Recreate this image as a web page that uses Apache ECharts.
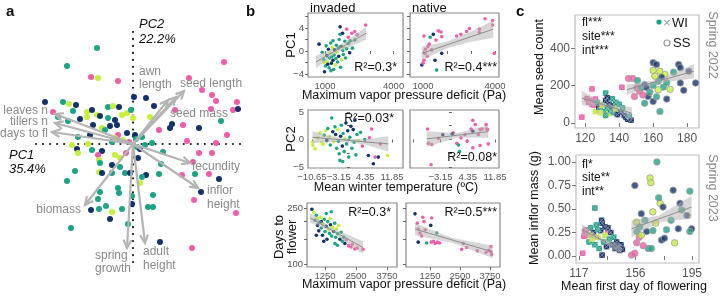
<!DOCTYPE html>
<html><head><meta charset="utf-8">
<script src="https://cdn.jsdelivr.net/npm/echarts@6/dist/echarts.min.js"></script>
<style>html,body{margin:0;padding:0;background:#fff}#c{width:720px;height:296px}</style>
</head><body><div id="c"></div><script>
const FONT = '"Liberation Sans", Arial, Helvetica, sans-serif';
const COLORS = ['#13316c', '#1ba587', '#c6f03a', '#f45ca8'];

// ---- panel a: PCA scores [PC1, PC2, group] ----
const pcaScores = [
[-3.6,9.6,1],[-6.6,7.8,1],[9.1,8.2,3],[-4.2,6.7,3],[-3.5,6.6,2],[-1.5,6.3,3],[5.6,6.6,3],[6.9,5.4,3],[7.9,4.9,3],[8.3,4.3,3],[10.4,4.2,3],[10.0,3.4,3],[-8.8,4.2,0],[-7.0,4.2,1],[-6.4,4.0,2],[-5.7,3.9,0],[0.1,4.7,0],[1.3,4.6,0],[2.1,3.8,0],[-8.0,3.2,3],[-6.0,3.3,1],[-4.6,3.2,2],[-4.1,3.4,0],[-3.6,2.9,2],[-2.5,3.7,1],[-2.0,3.8,2],[-1.4,3.7,0],[-0.6,3.1,2],[-0.2,3.4,1],[4.2,3.4,3],[7.8,3.5,3],[10.5,3.5,0],[-7.5,2.7,1],[-6.5,2.3,1],[-4.6,2.7,2],[-5.3,2.5,0],[-3.3,2.8,0],[-2.5,2.6,1],[-1.8,2.4,0],[-1.1,2.9,2],[0.0,2.6,2],[3.9,2.0,0],[3.7,1.6,0],[5.0,1.9,3],[8.8,2.3,1],[6.6,1.6,0],[2.6,1.4,3],[-3.1,1.6,2],[-4.0,1.9,0],[-2.3,1.8,0],[-2.8,1.4,1],[-1.6,1.9,0],[-5.5,0.7,1],[-4.3,0.9,0],[-1.5,0.9,3],[-2.1,0.2,1],[-0.6,1.1,0],[0.2,0.9,0],[9.4,0.9,3],[0.9,0.7,1],[1.7,2.7,2],[1.2,-0.1,1],[1.9,0.1,1],[-4.5,0.0,2],[8.3,0.1,3],
[-6.1,-0.1,2],[-5.6,-0.5,0],[-5.5,-0.9,2],[-4.1,-0.6,1],[-3.1,-0.7,0],[-3.5,-1.1,3],[-3.4,-1.6,2],[-3.3,-1.9,1],[5.4,0.3,3],[-1.8,-1.1,2],[-1.3,-1.4,2],[-0.7,-0.9,3],[-1.3,-2.3,1],[-2.1,-2.1,0],[-5.8,-2.7,1],[-6.6,-3.7,1],[-3.4,-2.8,2],[-3.1,-2.9,0],[-2.1,-2.9,1],[-0.8,-2.9,1],[-0.3,-2.9,0],[0.5,-1.4,0],[3.0,-0.8,1],[2.8,-2.0,1],[1.3,-3.1,0],[0.9,-3.3,1],[0.7,-3.9,2],[2.6,-3.0,1],[4.9,-3.1,3],[6.0,-1.8,3],[6.6,-0.9,3],[7.9,-0.9,3],[6.2,-3.0,1],[7.6,-3.0,3],[8.6,-3.5,0],[6.8,-4.8,0],[6.1,-5.6,3],[10.3,-6.9,3],[-3.3,-4.8,1],[-1.5,-4.4,1],[-1.4,-4.9,1],[-3.5,-5.5,1],[-4.2,-6.6,0],[-3.4,-6.5,1],[-2.7,-6.2,1],[-2.1,-6.8,2],[-2.3,-7.5,0],[-1.1,-6.5,1],[-0.1,-5.2,1],[-0.1,-6.0,0],[1.5,-6.3,1],[2.0,-6.3,1],[2.0,-5.1,1],[-0.5,-8.0,1],[-6.2,-8.4,1],[2.7,-9.8,0],[5.9,-10.4,3],
[-1.0,0.4,2],[0.4,-0.3,1],[-0.4,0.2,3],[0.7,-0.5,0],[-1.8,0.6,2],[0.3,0.5,1]
];
const loadingNames = ['leaves n','tillers n','days to fl','awn length','seed mass','seed length','fecundity','inflor height','biomass','spring growth','adult height'];
const loadingPC1 = [-7.8,-7.8,-8.1,3.5,4.3,5.1,5.7,6.5,-4.8,-0.6,1.2];
const loadingPC2 = [3.0,2.1,1.2,4.4,4.7,5.3,-1.9,-4.4,-6.1,-10.4,-9.9];
// zero reference lines [x1, y1, x2, y2]
const zeroLines = [[-9.7,0,10.7,0],[0,11.2,0,-11.8]];

// ---- panel b: [x, y, group] ----
const vpdPC1Invaded = [[740,1.2,0],[880,-0.2,1],[950,-1.5,1],[980,-3.6,0],[1020,-2.6,1],[1050,0.9,1],[1080,-0.8,0],[1100,-1.8,2],[1150,0.3,0],[1180,-2.9,1],[1200,-1.2,1],[1230,-0.4,2],[1250,1.4,1],[1280,-2.1,0],[1300,-1.0,1],[1320,0.6,2],[1350,-1.6,0],[1380,-3.2,1],[1400,-0.7,1],[1420,0.2,0],[1450,-2.4,2],[1480,-1.3,1],[1500,1.0,1],[1520,-0.2,2],[1550,-1.9,1],[1580,0.5,1],[1600,-0.9,0],[1620,2.0,1],[1660,4.2,0],[1660,2.9,1],[1680,-2.8,1],[1700,0.8,0],[1720,-1.5,2],[1770,3.1,0],[1780,0.1,1],[1800,-0.6,1],[1840,0.75,2],[1870,1.7,1],[1900,-1.2,1],[1950,3.8,3],[1950,0.4,1],[2020,2.4,3],[2020,1.3,1],[2080,-0.3,0],[2100,1.8,1],[2170,3.1,3],[2200,0.5,1],[2300,3.4,3],[2300,1.9,1],[2410,2.8,3],[2780,4.5,3],[1120,-2.3,0],[1260,-3.4,1],[960,-2.0,2],[1350,1.8,1]];
const vpdPC1Native = [[3585,5.6,3],[3900,5.3,3],[3900,4.5,3],[3350,3.8,3],[3350,3.2,3],[2930,3.9,3],[2820,3.4,3],[2580,2.9,3],[2400,2.6,3],[3970,-0.4,3],[1640,3.5,3],[1750,3.3,3],[1540,1.9,3],[1780,2.5,3],[1040,2.6,3],[1430,2.9,0],[1300,2.4,1],[1260,1.2,3],[1080,-0.4,3],[1180,-0.9,3],[1360,0.2,3],[1100,0.3,3],[1780,-0.4,0],[950,-2.4,0],[1040,-1.6,3],[1500,-1.6,0],[1570,-3.3,1],[1000,-2.1,3],[1200,0.8,3]];
const tempPC2Invaded = [[-10.5,-0.5,2],[-10.4,-1.1,2],[-9.8,-1.7,2],[-9.0,0.3,2],[-8.4,1.2,2],[-7.8,-0.6,2],[-7.2,0.8,1],[-6.8,1.6,2],[-6.5,-0.2,0],[-6.2,2.0,1],[-5.8,0.5,2],[-5.5,-1.0,1],[-5.1,3.9,1],[-4.8,1.4,0],[-4.5,-0.4,2],[-4.2,2.3,1],[-4.0,0.9,0],[-3.7,-1.6,1],[-3.4,1.8,2],[-3.2,-0.3,1],[-3.0,-2.6,1],[-2.8,-3.8,1],[-2.6,0.6,0],[-2.4,2.6,1],[-2.1,-1.2,0],[-1.9,1.1,1],[-1.6,-2.2,1],[-1.4,0.2,2],[-1.1,3.0,0],[-0.9,-0.8,1],[-0.6,1.6,0],[-0.3,-3.2,1],[0.0,0.4,1],[0.3,2.4,0],[0.6,-1.6,1],[0.95,1.8,0],[1.2,-0.5,1],[1.4,3.5,0],[1.7,-2.8,1],[2.0,0.9,1],[2.5,-0.2,2],[3.0,1.3,1],[3.5,-1.2,3],[4.2,0.0,1],[5.2,-2.9,0],[5.5,0.3,3],[6.1,1.9,3],[6.6,-4.4,0],[7.1,-3.2,3],[8.0,-3.2,0],[8.6,-0.8,3],[10.6,-2.9,2],[-2.0,-4.0,1],[-7.5,-0.9,2]];
const tempPC2Native = [[-6.7,1.9,3],[-6.45,-0.7,3],[-5.5,-0.9,3],[-5.7,-4.6,3],[-2.5,0.85,0],[-3.7,0.2,3],[0.4,1.2,3],[0.1,1.0,0],[1.35,-0.7,3],[1.8,-1.0,1],[2.1,-2.2,1],[5.75,3.5,3],[6.4,2.7,3],[5.3,1.9,3],[5.75,1.5,0],[7.75,1.8,3],[8.3,1.9,3],[9.4,2.7,3],[9.6,1.9,3],[9.8,1.8,3],[5.75,-1.5,3],[7.75,-1.1,3],[10.0,-0.8,3],[7.3,0.9,3],[3.6,0.85,3],[2.5,0.3,3],[4.2,-0.3,3]];
const vpdDaysInvaded = [[720,245,0],[800,232,2],[850,205,1],[900,222,1],[950,188,0],[1000,172,0],[1020,198,1],[1080,215,2],[1100,180,1],[1150,160,0],[1180,192,2],[1220,208,1],[1250,170,1],[1300,185,0],[1330,150,0],[1360,200,1],[1400,176,2],[1430,165,1],[1470,190,0],[1500,235,1],[1520,158,1],[1560,182,2],[1600,170,0],[1640,195,1],[1680,155,1],[1720,178,2],[1760,164,1],[1800,188,2],[1850,150,0],[1900,168,1],[1950,145,1],[2000,155,1],[2050,140,0],[2100,148,3],[2200,135,3],[2300,132,3],[2350,138,3],[2450,128,3],[2550,130,3],[2780,127,3],[1200,145,0],[900,160,0],[1100,200,0],[1650,140,1],[1750,136,1],[1300,228,1],[950,210,2],[1450,210,2]];
const vpdDaysNative = [[625,227,0],[945,215,3],[720,195,3],[1320,212,3],[1280,188,0],[760,177,3],[830,166,3],[900,158,3],[1530,166,1],[1000,200,3],[760,143,0],[1110,141,1],[1300,143,3],[1390,145,3],[1460,140,3],[1570,143,3],[1650,141,3],[2570,127,3],[2640,140,3],[2780,131,3],[3220,124,3],[3780,122,3],[3790,133,3],[3820,117,3],[3590,121,3],[3700,125,3],[1050,175,3]];
// fits: [x, lower, fit, upper]
const fitB1Inv = [[600,-3.0,-1.9,-0.8],[1500,-0.35,0.15,0.65],[2200,0.9,1.7,2.5],[2800,2.0,3.1,4.2]];
const fitB1Nat = [[950,-1.6,-0.4,0.8],[2000,0.5,1.08,1.66],[3000,1.6,2.5,3.4],[3930,2.3,3.8,5.3]];
const fitB2Inv = [[-10.5,-0.7,0.4,1.5],[-3,-0.35,-0.02,0.31],[4,-0.85,-0.42,0.0],[10.8,-2.2,-0.8,0.6]];
const fitB2Nat = [[-6.9,-1.3,0.1,1.5],[1.5,0.35,0.77,1.2],[10,0.3,1.45,2.6]];
const fitB3Inv = [[650,196,212,229],[1500,170,175,181],[2780,118,131,145]];
const fitB3Nat = [[625,160,177,195],[2200,141,147,153],[3860,110,122,135]];

// ---- panel c: [first day, value, group] ----
const seedWI = [[118,31,3],[124,182,3],[121,130,3],[122,110,3],[123,120,3],[124,100,3],[126,128,3],[125,95,3],[132,160,1],[141.6,191,3],[126,61,2],[127,110,1],[128,85,0],[129,70,1],[130,95,2],[131,60,1],[132,120,0],[133,80,1],[134,50,2],[134,100,0],[135,65,1],[136,90,0],[137,55,1],[138,75,2],[139,45,0],[140,100,1],[141,60,0],[142,80,1],[143,40,0],[144,30,0],[145,20,0],[146,35,1],[147,15,0],[136,130,1],[132,40,1],[129,55,2],[138,110,1],[133,135,0]];
const seedSS = [[145.5,238,3],[148,238,3],[150.8,227,1],[150.4,188,3],[152,170,3],[149,142,3],[153,190,1],[155,205,0],[160,323,0],[162,313,0],[160,281,2],[164,277,2],[167,260,2],[165,245,0],[163,223,1],[160,200,1],[166,192,1],[163,177,2],[156,190,0],[157,142,0],[155,106,1],[160,115,0],[164,61,1],[168,128,0],[172,272,1],[175,313,0],[176,295,0],[181,277,0],[176,214,0],[185,214,0],[178,175,0],[168,215,1],[161,250,2],[158,165,1],[170,180,2],[154,150,3],[162,140,1]];
const massWI = [[128,0.51,1],[119.6,0.03,3],[120.4,0.21,3],[121,0.26,3],[137,0.26,3],[133,0.01,0],[132.6,0.38,0],[122,0.28,3],[123,0.22,3],[124,0.15,1],[125,0.30,1],[126,0.18,2],[127,0.25,0],[128,0.12,1],[129,0.33,1],[130,0.20,2],[131,0.08,1],[132,0.27,0],[133,0.35,0],[134,0.15,1],[135,0.22,2],[136,0.10,0],[137,0.30,0],[138,0.18,1],[139,0.25,0],[140,0.12,0],[141,0.20,1],[142,0.08,0],[143,0.15,0],[144,0.10,0],[145,0.06,0],[146,0.12,0],[147,0.07,0],[125,0.22,2],[130,0.28,1],[135,0.31,0]];
const massSS = [[170.8,1.0,1],[166,0.83,2],[166.6,0.78,2],[155.6,0.75,0],[182,0.70,0],[193.5,0.69,1],[173,0.56,2],[175,0.52,0],[186.7,0.56,0],[187.8,0.49,1],[160,0.45,0],[168,0.47,2],[162.5,0.38,1],[156.8,0.36,2],[159,0.31,1],[163.7,0.26,0],[168,0.27,1],[191.5,0.43,0],[185.5,0.29,0],[194.7,0.29,0],[193.5,0.26,1],[183,0.14,2],[164.8,0.08,1],[167,0.08,1],[153.3,0.01,3],[155.6,0.03,3],[156.8,0.14,3],[158.6,0.2,3],[161.3,0.11,3],[174,0.17,0],[176,0.19,0],[177.4,0.28,1],[180.5,0.38,1],[170,0.35,2],[157,0.26,1],[160,0.22,2],[172,0.62,1]];
const fitSeedWI = [[118,95,133,171],[133,85,93,101],[147.5,20,52,84]];
const fitSeedSS = [[144.5,150,178,206],[163,213,222,231],[184,240,277,314]];
const fitMassWI = [[118.9,0.22,0.28,0.34],[132,0.16,0.18,0.2],[146.4,0.01,0.064,0.12]];
const fitMassSS = [[153.3,0.2,0.29,0.38],[172,0.36,0.395,0.43],[194.7,0.4,0.52,0.64]];

// ---- tick values ----
const ticksVpd = [1000,2000,3000,4000], labelsVpd = [1000,4000];
const ticksPC1 = [-4,-2,0,2,4,6], labelsPC1 = [-4,0,4];
const ticksTemp = [-10.65,-3.15,4.35,11.85], labelsTempNat = [-3.15,4.35,11.85];
const ticksPC2 = [-5,-2.5,0,2.5,5], labelsPC2 = [-5,0,5];
const ticksVpd3 = [1250,2500,3750];
const ticksDays = [100,150,200,250], labelsDays = [100,250];
const ticksFl1 = [120,140,160,180], ticksSeed = [0,200,400];
const ticksFl2 = [117,136.5,156,175.5,195], labelsFl2 = [117,156,195];
const ticksMass = [0,0.25,0.5,0.75,1];

const chart = echarts.init(document.getElementById('c'), null, {renderer:'canvas', width:720, height:296});
const L10 = v => Math.log10(v);
const minus = v => String(v).replace('-', '\u2212');

function grid(left, top, width, height, border) {
  return {left, top, width, height, show: !!border, borderColor: border || 'transparent', borderWidth: 1.2, backgroundColor:'transparent', containLabel:false, outerBoundsMode:'none'};
}
function axis(gi, min, max, ticks, labels, o) {
  o = o || {};
  return {gridIndex:gi, type:'value', min, max,
    axisLine:{show:false}, splitLine:{show:false}, minorTick:{show:false},
    axisTick:{show:true, inside:false, length:o.tl||3, customValues:ticks, lineStyle:{color:o.tc||'#666', width:1}},
    axisLabel:Object.assign({show: labels.length>0, fontSize:o.fs||9.5, color:o.lc||'#555', margin:o.m||4, fontFamily:FONT, formatter:o.fmt||minus, hideOverlap:false}, labels.length ? {customValues:labels} : {})};
}
function scatter(gi, data, size, extra) {
  return Object.assign({type:'scatter', xAxisIndex:gi, yAxisIndex:gi, data, symbolSize:size, silent:true, animation:false,
    itemStyle:{color: p => COLORS[p.data[2]], opacity:1}}, extra||{});
}
function fit(gi, f, tf) {
  tf = tf || (v => v);
  const band = f.map(r => [r[0], tf(r[1]), tf(r[2]), tf(r[3])]);
  return [
    {type:'custom', xAxisIndex:gi, yAxisIndex:gi, data:band, encode:{x:0, y:[1,3]}, silent:true, animation:false, z:3,
      renderItem:(params, api) => {
        if (params.dataIndex !== 0) return;
        const pts = [];
        band.forEach(b => pts.push(api.coord([b[0], b[1]])));
        for (let i = band.length-1; i >= 0; i--) pts.push(api.coord([band[i][0], band[i][3]]));
        return {type:'polygon', shape:{points:pts}, style:{fill:'rgba(175,175,175,0.5)'}};
      }},
    {type:'line', xAxisIndex:gi, yAxisIndex:gi, data:[[band[0][0], band[0][2]], [band[band.length-1][0], band[band.length-1][2]]],
      symbol:'none', silent:true, animation:false, z:4, lineStyle:{color:'#8f8f8f', width:1}}
  ];
}
const crossPath = 'path://M0,0.9L0.9,0L5,4.1L9.1,0L10,0.9L5.9,5L10,9.1L9.1,10L5,5.9L0.9,10L0,9.1L4.1,5Z';

const grids = [
  grid(0,0,240,296,null),
  grid(308,13,95,64,'#888'), grid(410,13,89,64,'#888'),
  grid(308,110,95,58,'#888'), grid(410,110,89,58,'#888'),
  grid(307,203,90,64,'#888'), grid(406,203,94,64,'#888'),
  grid(575,15,124,113,'#bdbdbd'), grid(576,155,123,108,'#bdbdbd')
];
const logFmt = v => String(Math.round(Math.pow(10, v)));
const cOpt = {fs:12, tl:4, m:5, lc:'#555', tc:'#777'};
const xAxes = [
  {gridIndex:0, type:'value', min:-13.3, max:10.7, show:false},
  axis(1, 258, 4410, ticksVpd, labelsVpd),
  axis(2, 458, 4167, ticksVpd, labelsVpd),
  axis(3, -11.77, 14.94, ticksTemp, ticksTemp),
  axis(4, -11.5, 12.95, ticksTemp, labelsTempNat),
  axis(5, 524, 4153, ticksVpd3, ticksVpd3),
  axis(6, 250, 4166, ticksVpd3, ticksVpd3),
  axis(7, 114, 187, ticksFl1, ticksFl1, cOpt),
  axis(8, 115, 199.8, ticksFl2, labelsFl2, cOpt)
];
const yAxes = [
  {gridIndex:0, type:'value', min:-15.2, max:14.4, show:false},
  axis(1, -4.5, 6.6, ticksPC1, labelsPC1),
  axis(2, -4.5, 6.6, ticksPC1, []),
  axis(3, -5.18, 5.36, ticksPC2, labelsPC2),
  axis(4, -5.18, 5.36, ticksPC2, []),
  axis(5, 1.979, 2.433, ticksDays.map(L10), labelsDays.map(L10), {fmt:logFmt}),
  axis(6, 1.979, 2.433, ticksDays.map(L10), [], {}),
  axis(7, -27, 578, ticksSeed, ticksSeed, cOpt),
  axis(8, -0.074, 1.074, ticksMass, ticksMass, Object.assign({}, cOpt, {fmt: v => v.toFixed(2)}))
];

const series = [];
// panel a: dotted zero lines
series.push({type:'custom', xAxisIndex:0, yAxisIndex:0, silent:true, animation:false, z:1,
  data: zeroLines, encode:{x:[0,2], y:[1,3]},
  renderItem:(params, api) => {
    const a = api.coord([api.value(0), api.value(1)]), b = api.coord([api.value(2), api.value(3)]);
    const len = Math.hypot(b[0]-a[0], b[1]-a[1]), n = Math.round(len/7);
    const children = [];
    for (let i = 0; i <= n; i++) {
      const t = i/n;
      children.push({type:'circle', shape:{cx:a[0]+(b[0]-a[0])*t, cy:a[1]+(b[1]-a[1])*t, r:1.1}, style:{fill:'#1a1a1a'}});
    }
    return {type:'group', children};
  }});
series.push(scatter(0, pcaScores, 6));
series.push({type:'custom', xAxisIndex:0, yAxisIndex:0, silent:true, animation:false, z:5,
  data: loadingPC1.map((v,i) => [v, loadingPC2[i]]),
  renderItem:(params, api) => {
    const o = api.coord([0,0]), t = api.coord([api.value(0), api.value(1)]);
    const ang = Math.atan2(t[1]-o[1], t[0]-o[0]), Lh = 9, A = 0.45;
    const h1 = [t[0]-Lh*Math.cos(ang-A), t[1]-Lh*Math.sin(ang-A)];
    const h2 = [t[0]-Lh*Math.cos(ang+A), t[1]-Lh*Math.sin(ang+A)];
    return {type:'group', children:[
      {type:'line', shape:{x1:o[0], y1:o[1], x2:t[0], y2:t[1]}, style:{stroke:'#b4b4b4', lineWidth:2.2}},
      {type:'polyline', shape:{points:[h1, t, h2]}, style:{stroke:'#b4b4b4', lineWidth:2.2, fill:null}}
    ]};
  }});
// panel b
series.push(scatter(1, vpdPC1Invaded, 3.6), ...fit(1, fitB1Inv));
series.push(scatter(2, vpdPC1Native, 3.6), ...fit(2, fitB1Nat));
series.push(scatter(3, tempPC2Invaded, 3.6), ...fit(3, fitB2Inv));
series.push(scatter(4, tempPC2Native, 3.6), ...fit(4, fitB2Nat));
series.push(scatter(5, vpdDaysInvaded.map(d => [d[0], L10(d[1]), d[2]]), 3.6), ...fit(5, fitB3Inv, L10));
series.push(scatter(6, vpdDaysNative.map(d => [d[0], L10(d[1]), d[2]]), 3.6), ...fit(6, fitB3Nat, L10));
// panel c
function cPanel(gi, wi, ss, fwi, fss) {
  series.push(scatter(gi, wi, 5.5, {symbol:'rect'}));
  series.push({type:'scatter', xAxisIndex:gi, yAxisIndex:gi, data:wi.map(d => [d[0], d[1]]), symbol:crossPath, symbolSize:5.5, silent:true, animation:false,
    itemStyle:{color:'rgba(215,200,210,0.75)'}});
  series.push(scatter(gi, ss, 6.5, {itemStyle:{color: p => COLORS[p.data[2]], borderColor:'#a0a0a0', borderWidth:1}}));
  series.push(...fit(gi, fwi), ...fit(gi, fss));
}
cPanel(7, seedWI, seedSS, fitSeedWI, fitSeedSS);
cPanel(8, massWI, massSS, fitMassWI, fitMassSS);

function T(x, y, text, o) {
  o = o || {};
  const al = o.align || 'left';
  return {type:'text', x, y, rotation:o.rot||0, silent:true, z:100,
    style:{text, fill:o.color||'#111', fontSize:o.size||12, fontFamily:FONT, fontWeight:o.weight||'normal', fontStyle:o.italic?'italic':'normal',
      align:al, textAlign:al, verticalAlign:'middle', textVerticalAlign:'middle', lineHeight:o.lh||undefined}};
}
const G = '#8a8a8a';
const graphics = [
  T(6,12,'a',{weight:'bold',size:15}), T(246,12,'b',{weight:'bold',size:15}), T(516,12,'c',{weight:'bold',size:15}),
  T(139,24,'PC2',{italic:true,size:13}), T(139,39,'22.2%',{italic:true,size:13}),
  T(9,155,'PC1',{italic:true,size:13}), T(9,169,'35.4%',{italic:true,size:13}),
  T(139,72,'awn',{color:G}), T(139,85,'length',{color:G}), T(180,84,'seed length',{color:G}), T(170,114,'seed mass',{color:G}),
  T(48,111,'leaves n',{color:G,align:'right'}), T(48,122,'tillers n',{color:G,align:'right'}), T(48,134,'days to fl',{color:G,align:'right'}),
  T(192,167,'fecundity',{color:G}), T(207,191,'inflor',{color:G}), T(207,205,'height',{color:G}),
  T(81,210,'biomass',{color:G,align:'right'}), T(95,256,'spring',{color:G}), T(95,269,'growth',{color:G}),
  T(143,252,'adult',{color:G}), T(143,266,'height',{color:G}),
  T(310,8,'invaded',{size:13}), T(412,8,'native',{size:13}),
  T(291,45,'PC1',{rot:Math.PI/2,align:'center',size:13}), T(291,139,'PC2',{rot:Math.PI/2,align:'center',size:13}),
  T(286,237,'Days to\nflower',{rot:Math.PI/2,align:'center',size:13,lh:13}),
  T(404,96,'Maximum vapor pressure deficit (Pa)',{align:'center',size:12.5}),
  T(396,188,'Mean winter temperature (\u00baC)',{align:'center',size:12.5}),
  T(404,285,'Maximum vapor pressure deficit (Pa)',{align:'center',size:12.5}),
  T(397,68,'R\u00b2=0.3*',{align:'right',size:12.5}), T(497,68,'R\u00b2=0.4***',{align:'right',size:12.5}),
  T(394,119,'R\u00b2=0.03*',{align:'right',size:12.5}), T(497,158,'R\u00b2=0.08*',{align:'right',size:12.5}),
  T(391,213,'R\u00b2=0.3*',{align:'right',size:12.5}), T(497,213,'R\u00b2=0.5***',{align:'right',size:12.5}),
  T(582,23,'fl***'), T(582,37,'site***'), T(582,51,'int***'),
  T(582,165,'fl*'), T(582,178,'site**'), T(582,192,'int**'),
  {type:'circle', shape:{cx:659, cy:22, r:2.6}, style:{fill:COLORS[1]}, silent:true, z:100},
  T(663,23,'\u00d7',{color:'#999',size:13}), T(672,23,'WI',{size:13}),
  {type:'circle', shape:{cx:667, cy:43, r:3}, style:{fill:'none', stroke:'#999', lineWidth:1.2}, silent:true, z:100},
  T(673,43,'SS',{size:13}),
  T(540,67,'Mean seed count',{rot:Math.PI/2,align:'center',size:12.5}),
  T(535,208,'Mean inflor mass (g)',{rot:Math.PI/2,align:'center',size:12.5}),
  T(712,45,'Spring 2022',{rot:-Math.PI/2,align:'center',color:'#888',size:12.5}),
  T(712,188,'Spring 2023',{rot:-Math.PI/2,align:'center',color:'#888',size:12.5}),
  T(634,287,'Mean first day of flowering',{align:'center',size:12.5})
];

chart.setOption({animation:false, backgroundColor:'#fff', textStyle:{fontFamily:FONT},
  grid:grids, xAxis:xAxes, yAxis:yAxes, series, graphic:{elements:graphics}});
</script></body></html>
